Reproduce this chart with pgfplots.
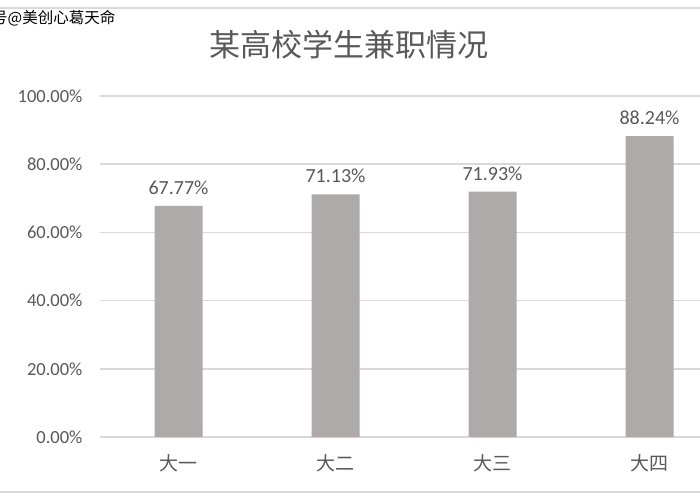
\documentclass[border=0pt]{standalone}
\usepackage{pgfplots}
\pgfplotsset{compat=1.18}
\usepackage{fontspec}
\setmainfont{Noto Sans CJK SC}
\newfontfamily\numfont{Carlito}
\definecolor{barc}{HTML}{AEAAAA}
\definecolor{txtc}{HTML}{595959}
\definecolor{gridc}{HTML}{D9D9D9}
\begin{document}
\begin{tikzpicture}[x=1pt,y=1pt]
\useasboundingbox (0,0) rectangle (700,500);
\clip (0,0) rectangle (700,500);
\fill[white] (0,0) rectangle (700,500);
\draw[gridc, line width=2pt] (-5,492) -- (705,492);
\draw[gridc, line width=2pt] (-5,8) -- (705,8);
\node[anchor=west, inner sep=0pt, font=\fontsize{15.5}{15.5}\selectfont] at (-8,482) {号@美创心葛天命};
\node[txtc, font=\fontsize{31}{31}\selectfont] at (349,455) {某高校学生兼职情况};
\begin{axis}[
  at={(100pt,63pt)}, anchor=south west,
  scale only axis, width=628pt, height=341pt,
  xmin=-0.5, xmax=3.5, ymin=0, ymax=100,
  ybar, bar width=48pt,
  xtick={0,1,2,3},
  xticklabels={大一,大二,大三,大四},
  ytick={0,20,40,60,80,100},
  yticklabels={0.00\%,20.00\%,40.00\%,60.00\%,80.00\%,100.00\%},
  ymajorgrids, xmajorgrids=false,
  major grid style={draw=gridc, line width=1.5pt},
  axis x line*=bottom, axis y line*=left,
  x axis line style={draw=gridc, line width=1.5pt, -},
  y axis line style={draw=none},
  tick style={draw=none},
  xticklabel style={text=txtc, font=\fontsize{19}{19}\selectfont, yshift=-10pt},
  yticklabel style={text=txtc, font=\numfont\fontsize{18.5}{18.5}\selectfont, xshift=-14pt},
  nodes near coords={\pgfmathprintnumber[fixed,fixed zerofill,precision=2]{\pgfplotspointmeta}\%},
  nodes near coords style={text=txtc, font=\numfont\fontsize{20}{20}\selectfont, yshift=8pt},
  every node near coord/.append style={/pgf/number format/assume math mode=true},
  clip=false,
]
\addplot[fill=barc, draw=none] coordinates {(0,67.77) (1,71.13) (2,71.93) (3,88.24)};
\end{axis}
\end{tikzpicture}
\end{document}
